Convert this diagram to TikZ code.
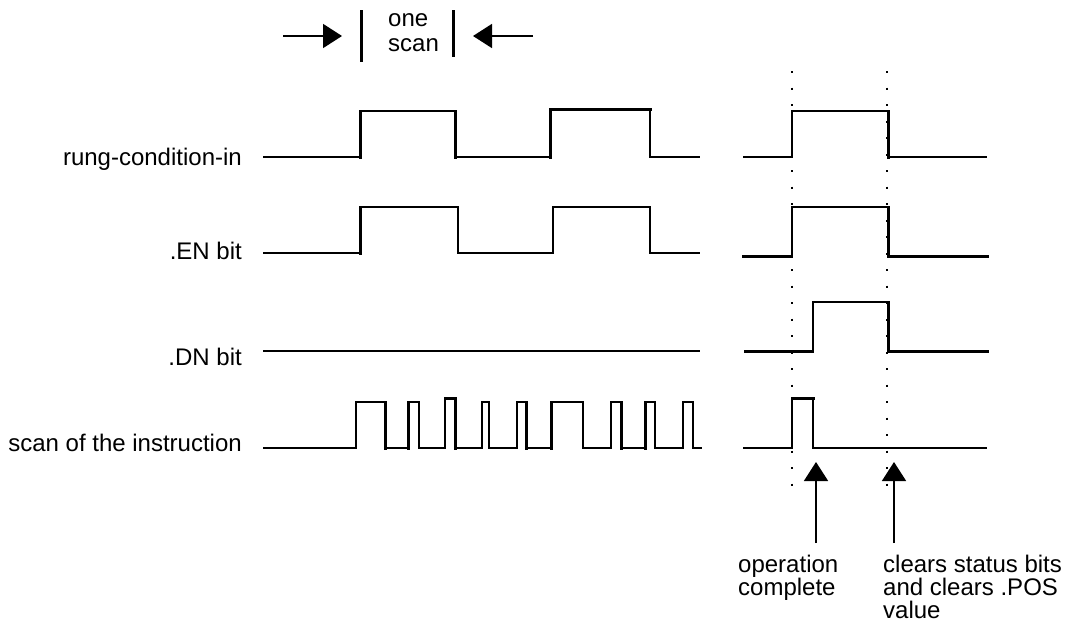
\documentclass[tikz,border=0pt]{standalone}
\usepackage{fontspec}
\setmainfont{Liberation Sans}
\usetikzlibrary{arrows.meta}
\begin{document}
\begin{tikzpicture}[x=1pt,y=-1pt,
  wave/.style={line width=1.5pt,line join=miter},
  thick wave/.style={line width=3pt,line cap=rect},
  dotline/.style={line width=2.2pt,dash pattern=on 2.2pt off 14.3pt},
  ptr/.style={line width=1.6pt,-{Triangle[length=19pt,width=24pt]}},
  lbl/.style={inner sep=0pt,font=\fontsize{24}{23}\selectfont}
]
\useasboundingbox (0,0) rectangle (1075,637);

% ---- signal labels
\node[lbl,anchor=base east] (lrung) at (242,165) {rung-condition-in};
\node[lbl,anchor=base east] (len) at (242,259) {.EN bit};
\node[lbl,anchor=base east] (ldn) at (242,365) {.DN bit};
\node[lbl,anchor=base east] (lscan) at (242,451) {scan of the instruction};

% ---- one scan marker
\node[lbl,anchor=base west] (one) at (388,27) {one};
\node[lbl,anchor=base west] (scan) at (388,51) {scan};
\coordinate (bL1) at (361,10); \coordinate (bL2) at (361,62);
\coordinate (bR1) at (453,10); \coordinate (bR2) at (453,57);
\draw[line width=3pt] (bL1) -- (bL2);
\draw[line width=3pt] (bR1) -- (bR2);
\coordinate (aL0) at (283,36); \coordinate (aL1) at (342,36);
\coordinate (aR0) at (533,36); \coordinate (aR1) at (473,36);
\draw[ptr] (aL0) -- (aL1);
\draw[ptr] (aR0) -- (aR1);

% ---- left waveforms
% rung-condition-in
\draw[wave] (263,157) -- (360,157) -- (360,111) -- (455,111) -- (455,157)
  -- (550,157) -- (550,109) -- (650,109) -- (650,157) -- (700,157);
\draw[thick wave] (360,157) -- (360,111);
\draw[thick wave] (455,111) -- (455,157);
\draw[thick wave] (550,157) -- (550,109) -- (650,109);
% .EN bit
\draw[wave] (263,253) -- (360,253) -- (360,207) -- (458,207) -- (458,253)
  -- (553,253) -- (553,207) -- (650,207) -- (650,253) -- (700,253);
\draw[thick wave] (360,253) -- (360,207);
% .DN bit
\draw[wave] (263,351) -- (700,351);
% scan of the instruction
\draw[wave] (263,448) -- (356,448) -- (356,402) -- (385,402) -- (385,448)
  -- (408,448) -- (408,402) -- (419,402) -- (419,448)
  -- (445,448) -- (445,398) -- (455,398) -- (455,448)
  -- (482,448) -- (482,402) -- (489,402) -- (489,448)
  -- (517,448) -- (517,402) -- (526,402) -- (526,448)
  -- (551,448) -- (551,402) -- (583,402) -- (583,448)
  -- (611,448) -- (611,402) -- (621,402) -- (621,448)
  -- (645,448) -- (645,402) -- (655,402) -- (655,448)
  -- (683,448) -- (683,402) -- (693,402) -- (693,448) -- (702,448);
\draw[thick wave] (385,402) -- (385,448);
\draw[thick wave] (408,448) -- (408,402);
\draw[thick wave] (445,398) -- (455,398) -- (455,448);
\draw[thick wave] (526,402) -- (526,448);
\draw[thick wave] (551,448) -- (551,402);
\draw[thick wave] (621,402) -- (621,448);
\draw[thick wave] (645,448) -- (645,402);

% ---- right waveforms
\draw[dotline] (792,71) -- (792,495);
\draw[dotline] (887,71) -- (887,495);
% rung-condition-in
\draw[wave] (743,157) -- (792,157) -- (792,111) -- (888,111) -- (888,157) -- (987,157);
\draw[thick wave] (888,111) -- (888,157);
% .EN bit
\draw[wave] (743,256) -- (792,256) -- (792,207) -- (888,207) -- (888,256) -- (987,256);
\draw[thick wave] (743,256) -- (791,256);
\draw[thick wave] (888,207) -- (888,256) -- (987,256);
% .DN bit
\draw[wave] (745,351) -- (813,351) -- (813,302) -- (888,302) -- (888,351) -- (987,351);
\draw[thick wave] (745,351) -- (812,351);
\draw[thick wave] (888,302) -- (888,351) -- (987,351);
% scan of the instruction
\draw[wave] (743,448) -- (792,448) -- (792,398) -- (813,398) -- (813,448) -- (987,448);
\draw[thick wave] (792,398) -- (813,398);

% ---- event pointers
\coordinate (p1a) at (816,543); \coordinate (p1b) at (816,462);
\coordinate (p2a) at (894,543); \coordinate (p2b) at (894,462);
\draw[ptr] (p1a) -- (p1b);
\draw[ptr] (p2a) -- (p2b);
\node[lbl,anchor=base west] (opc1) at (738,572) {operation};
\node[lbl,anchor=base west] (opc2) at (738,595) {complete};
\node[lbl,anchor=base west] (clr1) at (883,572) {clears status bits};
\node[lbl,anchor=base west] (clr2) at (883,595) {and clears .POS};
\node[lbl,anchor=base west] (clr3) at (883,618) {value};
\end{tikzpicture}
\end{document}
